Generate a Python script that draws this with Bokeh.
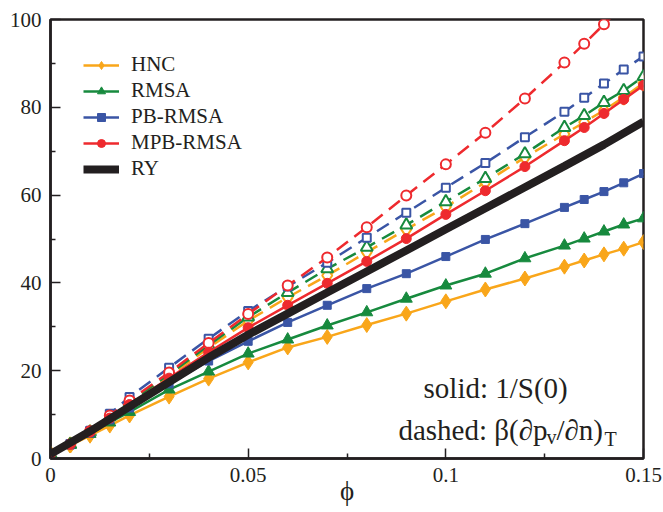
from bokeh.plotting import figure
from bokeh.models import (Legend, LegendItem, Label, NumeralTickFormatter,
                          FixedTicker, Range1d, ColumnDataSource)
from bokeh.embed import file_html
from bokeh.resources import INLINE

# ---------------- data ----------------
phi = [0, 0.005, 0.01, 0.015, 0.02, 0.03, 0.04, 0.05, 0.06, 0.07, 0.08,
       0.09, 0.1, 0.11, 0.12, 0.13, 0.135, 0.14, 0.145, 0.15]

# solid: 1/S(0)
hnc_s = [1.0, 3.0, 5.2, 7.5, 9.8, 14.1, 18.2, 21.9, 25.3, 27.7, 30.4,
         33.0, 35.8, 38.5, 41.0, 43.7, 45.1, 46.5, 47.8, 49.3]
rmsa_s = [1.0, 3.1, 5.6, 8.2, 10.6, 15.7, 19.8, 23.9, 27.1, 30.3, 33.3,
          36.4, 39.4, 42.1, 45.6, 48.5, 50.1, 51.7, 53.3, 54.7]
pb_s = [1.0, 3.1, 5.8, 8.8, 11.5, 17.0, 22.2, 26.7, 31.0, 34.9, 38.7,
        42.1, 46.0, 49.9, 53.5, 57.2, 59.0, 60.8, 62.8, 64.9]
mpb_s = [1.0, 3.2, 6.0, 9.2, 12.3, 18.3, 24.2, 29.8, 34.9, 39.9, 44.9,
         50.1, 55.6, 61.0, 66.5, 72.4, 75.4, 78.6, 81.8, 85.0]

# dashed: beta (dp_v/dn)_T
hnc_d = [1.0, 3.1, 5.9, 9.3, 12.5, 18.8, 25.2, 31.4, 36.7, 41.7, 47.0,
         52.2, 57.3, 62.9, 68.6, 73.9, 76.6, 79.3, 82.3, 85.5]
rmsa_d = [1.0, 3.2, 6.0, 9.5, 12.8, 19.2, 25.8, 32.2, 37.8, 43.2, 48.1,
          53.2, 58.5, 63.8, 69.4, 75.4, 78.1, 81.1, 83.8, 87.0]
pb_d = [1.0, 3.3, 6.3, 10.2, 14.0, 20.7, 27.3, 33.6, 39.2, 44.6, 50.3,
        56.0, 61.7, 67.3, 73.2, 79.0, 82.2, 85.4, 88.6, 91.6]
mpb_d = [1.0, 3.2, 6.2, 9.8, 13.2, 19.6, 26.3, 32.9, 39.4, 45.8, 52.7,
         59.9, 67.0, 74.2, 82.0, 90.2, 94.5, 98.9, 103.4]

# RY
ry_phi = [0, 0.01, 0.02, 0.03, 0.04, 0.05, 0.06, 0.07, 0.08, 0.09, 0.1,
          0.11, 0.12, 0.13, 0.14, 0.15]
ry = [1.0, 6.2, 11.8, 17.4, 23.0, 28.2, 33.0, 37.8, 42.6, 47.4, 52.2,
      57.0, 61.8, 66.6, 71.5, 76.7]

names = ["HNC", "RMSA", "PB-RMSA", "MPB-RMSA", "RY"]
x_ticks = [0, 0.05, 0.1, 0.15]
x_minor = [0.025, 0.075, 0.125]
y_ticks = [0, 20, 40, 60, 80, 100]
y_minor = [10, 30, 50, 70, 90]

# ---------------- style ----------------
FONT = "Liberation Serif"
ORANGE = "#F9A61A"
GREEN = "#178A3E"
BLUE = "#3A55A5"
RED = "#EE2A2E"
BLACK = "#231F20"

p = figure(width=663, height=512, x_range=Range1d(0, 0.15),
           y_range=Range1d(0, 100), output_backend="svg",
           toolbar_location=None, min_border_left=50, min_border_right=20,
           min_border_top=19, min_border_bottom=54)
p.grid.visible = False
p.outline_line_color = BLACK
p.outline_line_width = 2.5
p.outline_line_alpha = 1.0
p.background_fill_color = "white"
p.border_fill_color = "white"

for ax in (p.xaxis[0], p.yaxis[0]):
    ax.axis_line_color = BLACK
    ax.axis_line_width = 2.5
    ax.major_tick_in = 10
    ax.major_tick_out = 0
    ax.minor_tick_in = 5
    ax.minor_tick_out = 0
    ax.major_tick_line_color = BLACK
    ax.minor_tick_line_color = BLACK
    ax.major_tick_line_width = 1.5
    ax.minor_tick_line_width = 1.5
    ax.major_label_text_font = FONT
    ax.major_label_text_font_size = "21px"
    ax.major_label_text_color = BLACK

p.xaxis.ticker = FixedTicker(ticks=x_ticks, minor_ticks=x_minor)
p.yaxis.ticker = FixedTicker(ticks=y_ticks, minor_ticks=y_minor)
p.xaxis.formatter = NumeralTickFormatter(format="0.[00]")
p.xaxis.major_label_standoff = 9
p.yaxis.major_label_standoff = 9

p.xaxis.axis_label = "\u03d5"
p.xaxis.axis_label_text_font = FONT
p.xaxis.axis_label_text_font_style = "normal"
p.xaxis.axis_label_text_font_size = "27px"
p.xaxis.axis_label_text_color = BLACK
p.xaxis.axis_label_standoff = -9

DASH = "14 8"
series = [
    (names[0], hnc_s, hnc_d, ORANGE, "diamond", 15),
    (names[1], rmsa_s, rmsa_d, GREEN, "triangle", 12),
    (names[2], pb_s, pb_d, BLUE, "square", 8),
    (names[3], mpb_s, mpb_d, RED, "circle", 10),
]

# dashed curves with open markers
for name, ys, yd, col, mk, sz in series:
    xs = phi[:len(yd)]
    src = ColumnDataSource(dict(x=xs, y=yd))
    p.line("x", "y", source=src, line_color=col, line_width=2.5,
           line_dash=DASH)
    p.scatter("x", "y", source=src, marker=mk, size=sz,
              line_color=col, line_width=2, fill_color="white")

items = []
# solid curves with filled markers
for name, ys, yd, col, mk, sz in series:
    src = ColumnDataSource(dict(x=phi, y=ys))
    lr = p.line("x", "y", source=src, line_color=col, line_width=2.5)
    sr = p.scatter("x", "y", source=src, marker=mk, size=sz,
                   line_color=col, line_width=1, fill_color=col)
    items.append(LegendItem(label=name, renderers=[lr, sr]))

ryr = p.line(ry_phi, ry, line_color=BLACK, line_width=8)
items.append(LegendItem(label=names[4], renderers=[ryr]))

legend = Legend(items=items, location="top_left", margin=0, padding=33,
                spacing=1, glyph_width=36, glyph_height=20, label_height=20,
                label_standoff=12, border_line_alpha=0,
                background_fill_alpha=0, label_text_font=FONT,
                label_text_font_size="21px", label_text_color=BLACK)
p.add_layout(legend)

# annotation texts
AF = "29px"
SF = "20px"
p.add_layout(Label(x=0.1126, y=16.0, text="solid: 1/S(0)", text_align="center",
                   text_baseline="alphabetic", text_font=FONT,
                   text_font_size=AF, text_color=BLACK))
ax0, ay0 = 0.0880, 6.6
pieces = [("dashed: \u03b2(\u2202p", 0, 0, AF),
          ("v", 148, -7, SF),
          ("/\u2202n)", 158, 0, AF),
          ("T", 206, -9, SF)]
for t, dx, dy, fs in pieces:
    p.add_layout(Label(x=ax0, y=ay0, x_offset=dx, y_offset=dy, text=t,
                       text_align="left", text_baseline="alphabetic",
                       text_font=FONT, text_font_size=fs, text_color=BLACK))

open("out.html", "w").write(file_html(p, INLINE))
